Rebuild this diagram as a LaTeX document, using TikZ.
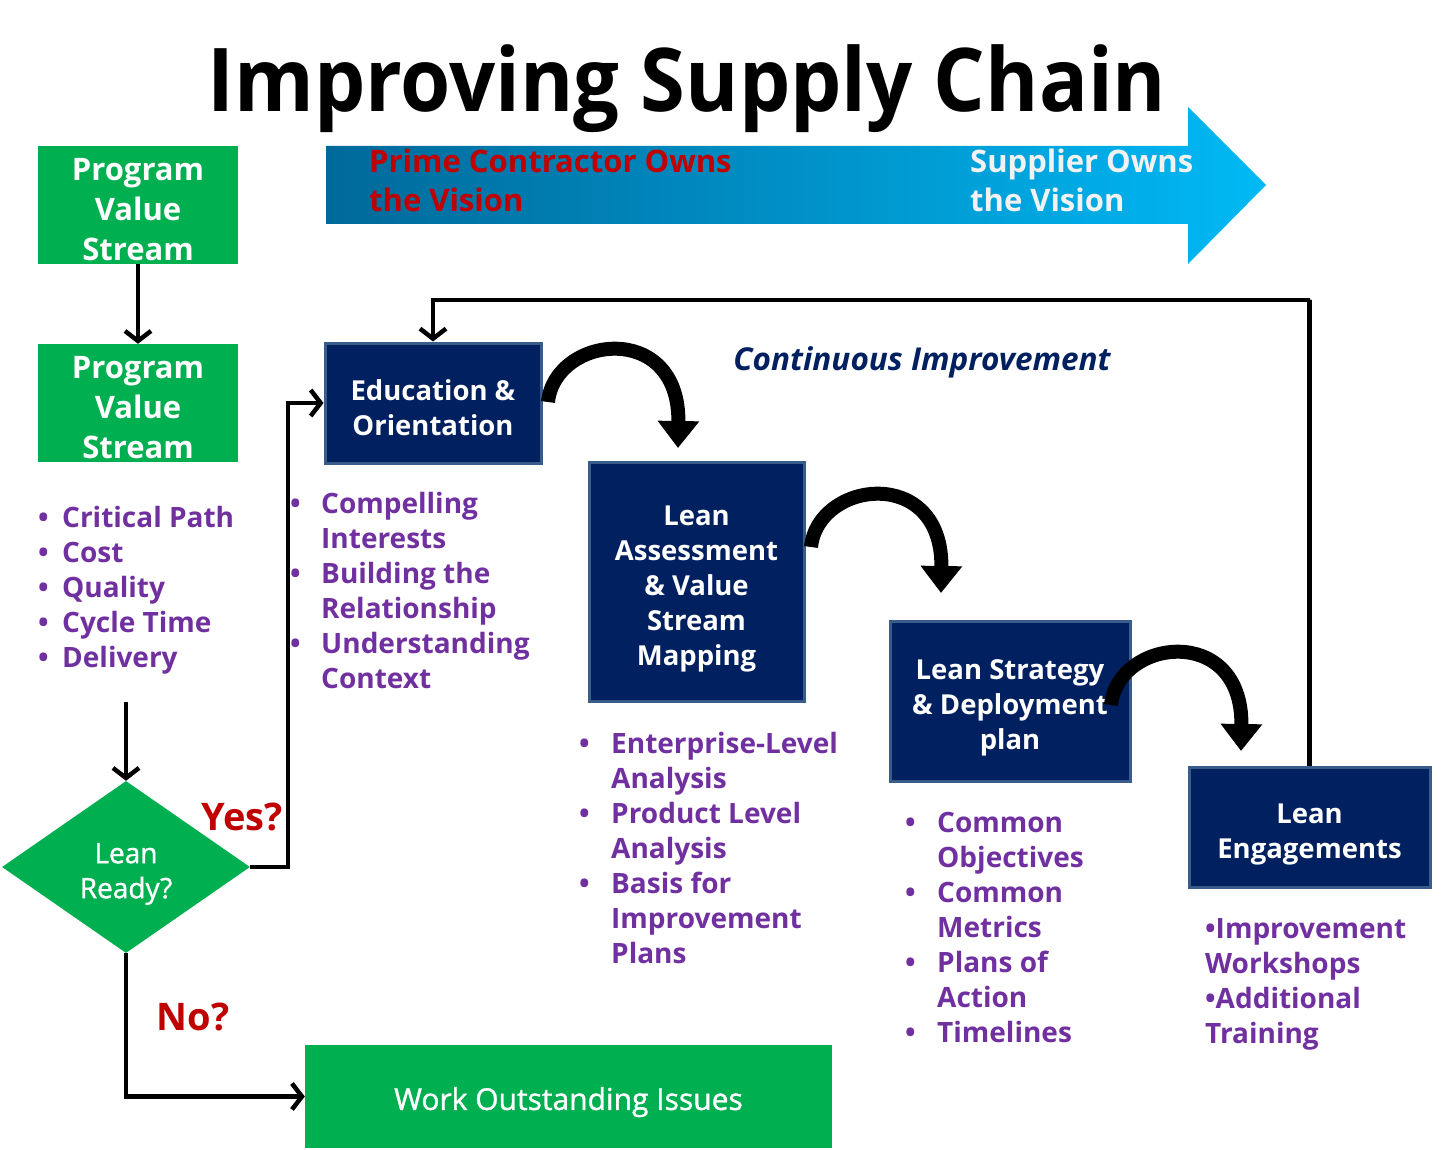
\documentclass[tikz,border=0pt]{standalone}
\usepackage{fontspec}
\setmainfont{Open Sans}
\newfontfamily\medfont{Open Sans}[FakeBold=1.2]
\usetikzlibrary{arrows.meta,shapes.geometric}
\definecolor{grn}{HTML}{00B050}
\definecolor{navy}{HTML}{002060}
\definecolor{bord}{HTML}{385D8A}
\definecolor{purp}{HTML}{7030A0}
\definecolor{dred}{HTML}{C00000}
\definecolor{blueL}{HTML}{00699A}
\definecolor{blueR}{HTML}{00B9F5}
\definecolor{offwhite}{HTML}{F2F2F2}
\newcommand\tup[1]{\rule{0pt}{#1}}
\begin{document}
\begin{tikzpicture}[x=1pt,y=-1pt,
  greenbox/.style={fill=grn, text=white, font=\bfseries\fontsize{31}{40}\selectfont, align=center, inner sep=0},
  navybox/.style={fill=navy, draw=bord, line width=3pt, text=white, font=\bfseries\fontsize{27.5}{35}\selectfont, align=center, inner sep=0},
  flow/.style={line width=4.5pt, -{Straight Barb[length=10pt,width=26pt]}},
  curvearrow/.style={line width=14pt, -{Triangle[length=27pt,width=40pt]}},
  bullets/.style={text=purp, font=\bfseries\fontsize{28}{35}\selectfont, align=left, inner sep=0, anchor=base west},
  redlabel/.style={text=dred, font=\bfseries\fontsize{38}{40}\selectfont, inner sep=0}
]
\useasboundingbox (0,0) rectangle (1443,1150);

% title
\node[font=\bfseries\fontsize{88}{90}\selectfont, anchor=base, inner sep=0] (title) at (687,112) {\scalebox{0.923}[1]{Improving Supply Chain}};

% gradient arrow
\shade[left color=blueL, right color=blueR] (326,146) -- (1188,146) -- (1188,107) -- (1266,185) -- (1188,264) -- (1188,224) -- (326,224) -- cycle;
\node[text=dred, font=\bfseries\fontsize{31}{39}\selectfont, align=left, anchor=base west, inner sep=0] (prime) at (369,212) {Prime Contractor Owns\\the Vision};
\node[text=offwhite, font=\bfseries\fontsize{31}{39}\selectfont, align=left, anchor=base west, inner sep=0] (supp) at (970,212) {Supplier Owns\\the Vision};

% green boxes
\node[greenbox, minimum width=200pt, minimum height=118pt] (pvs1) at (138,205) {\tup{31pt}Program\\Value\\Stream};
\node[greenbox, minimum width=200pt, minimum height=118pt] (pvs2) at (138,403) {\tup{31pt}Program\\Value\\Stream};
\draw[flow] (pvs1) -- (pvs2);

% navy boxes
\node[navybox, minimum width=216pt, minimum height=120pt] (edu) at (433,403) {\tup{30pt}Education \&\\Orientation};
\node[navybox, minimum width=215pt, minimum height=239pt] (assess) at (696.5,581.5) {\tup{34pt}Lean\\Assessment\\\& Value\\Stream\\Mapping};
\node[navybox, minimum width=240pt, minimum height=160pt] (strat) at (1010,701) {\tup{34pt}Lean Strategy\\\& Deployment\\plan};
\node[navybox, minimum width=241pt, minimum height=120pt] (engage) at (1309.5,827) {\tup{34pt}Lean\\Engagements};

% continuous improvement
\node[text=navy, font=\bfseries\itshape\fontsize{31.5}{34}\selectfont, anchor=base, inner sep=0] (ci) at (922,370) {Continuous Improvement};

% feedback loop
\draw[flow] (engage.north) |- (1310,300) -| (edu.north);

% curved arrows
\coordinate (c1s) at (548,402);
\coordinate (c1e) at (678,448);
\draw[curvearrow] (c1s) .. controls (555,335) and (680,320) .. (c1e);
\coordinate (c2s) at (811,547);
\coordinate (c2e) at (941,593);
\draw[curvearrow] (c2s) .. controls (818,480) and (943,465) .. (c2e);
\coordinate (c3s) at (1111,705);
\coordinate (c3e) at (1241,751);
\draw[curvearrow] (c3s) .. controls (1118,638) and (1243,623) .. (c3e);

% bullet lists
\node[bullets] (l0) at (38,667) {\makebox[24pt][l]{•}Critical Path\\\makebox[24pt][l]{•}Cost\\\makebox[24pt][l]{•}Quality\\\makebox[24pt][l]{•}Cycle Time\\\makebox[24pt][l]{•}Delivery};
\node[bullets] (l1) at (290,688) {\makebox[31pt][l]{•}Compelling\\\hspace*{31pt}Interests\\\makebox[31pt][l]{•}Building the\\\hspace*{31pt}Relationship\\\makebox[31pt][l]{•}Understanding\\\hspace*{31pt}Context};
\node[bullets] (l2) at (579,963) {\makebox[32pt][l]{•}Enterprise-Level\\\hspace*{32pt}Analysis\\\makebox[32pt][l]{•}Product Level\\\hspace*{32pt}Analysis\\\makebox[32pt][l]{•}Basis for\\\hspace*{32pt}Improvement\\\hspace*{32pt}Plans};
\node[bullets] (l3) at (905,1042) {\makebox[32pt][l]{•}Common\\\hspace*{32pt}Objectives\\\makebox[32pt][l]{•}Common\\\hspace*{32pt}Metrics\\\makebox[32pt][l]{•}Plans of\\\hspace*{32pt}Action\\\makebox[32pt][l]{•}Timelines};
\node[bullets] (l4) at (1205,1043) {•Improvement\\Workshops\\•Additional\\Training};

% decision
\coordinate (c0) at (126,702);
\node[diamond, fill=grn, minimum width=248pt, minimum height=172pt, inner sep=0, text=white, font=\medfont\fontsize{28}{35}\selectfont, align=center] (dia) at (126,867) {\tup{34pt}Lean\\Ready?};
\draw[flow] (c0) -- (dia.north);
\node[redlabel] (yes) at (242,817) {Yes?};
\draw[flow] (dia.east) -- ++(38,0) |- (edu.west);
\node[greenbox, font=\medfont\fontsize{30}{35}\selectfont, minimum width=527pt, minimum height=103pt] (work) at (568.5,1096.5) {\tup{34pt}Work Outstanding Issues};
\node[redlabel] (no) at (193,1017) {No?};
\draw[flow] (dia.south) |- (work.west);
\end{tikzpicture}
\end{document}
